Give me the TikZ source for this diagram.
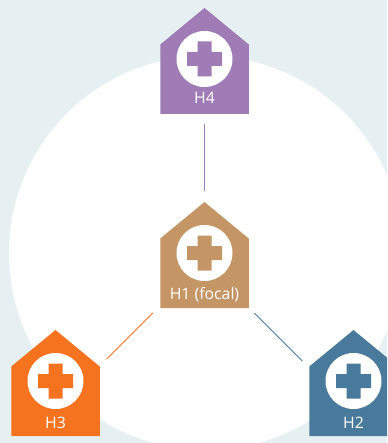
\documentclass[tikz,border=0pt]{standalone}
\usepackage{fontspec}
\setmainfont{Open Sans}
\definecolor{bgc}{HTML}{E6F0F2}
\definecolor{hfour}{HTML}{A07CB6}
\definecolor{hone}{HTML}{C49665}
\definecolor{hthree}{HTML}{F5731F}
\definecolor{htwo}{HTML}{4A7A9B}
\tikzset{
  housebox/.style={minimum width=88.5pt,minimum height=106pt,inner sep=0pt,outer sep=0pt},
  houselabel/.style={text=white,font=\fontsize{15.8pt}{17pt}\selectfont,anchor=base,inner sep=0pt},
  link/.style={line width=0.8pt},
}
% #1 name, #2 x of centre, #3 y of top, #4 label baseline offset, #5 label (the name is also the colour)
\newcommand{\hospital}[5]{%
  \fill[#1] (#2,#3) -- ++(44.25,36.5) -- ++(0,69.5) -- ++(-88.5,0) -- ++(0,-69.5) -- cycle;
  \fill[white] (#2,#3+51) circle[radius=28];
  \fill[#1] (#2-7,#3+33.5) -- ++(14,0) -- ++(0,10.5) -- ++(10.5,0) -- ++(0,14) -- ++(-10.5,0)
     -- ++(0,10.5) -- ++(-14,0) -- ++(0,-10.5) -- ++(-10.5,0) -- ++(0,-14) -- ++(10.5,0) -- cycle;
  \node[housebox] (#1) at (#2,#3+53) {};
  \node[houselabel] (#1label) at (#2,#3+#4) {#5};
}
\begin{document}
\begin{tikzpicture}[x=1pt,y=-1pt]
\useasboundingbox (0,0) rectangle (387,443);
\clip (0,0) rectangle (387,443);
\fill[bgc] (0,0) rectangle (387,443);
\fill[white] (206,253) circle[radius=197];
\hospital{hfour}{204.5}{8}{96}{H4}
\hospital{hone}{204.5}{202}{97.5}{H1 (focal)}
\hospital{hthree}{55.5}{330}{98}{H3}
\hospital{htwo}{353.5}{330}{98}{H2}
\draw[link,hfour] ([yshift=-10pt]hfour.south) -- ([yshift=11pt]hone.north);
\draw[link,hthree] ([shift={(-7.5,5)}]hone.south west) -- ([shift={(7,29)}]hthree.north east);
\draw[link,htwo] ([shift={(5.5,5)}]hone.south east) -- ([shift={(-7,31)}]htwo.north west);
\end{tikzpicture}
\end{document}
